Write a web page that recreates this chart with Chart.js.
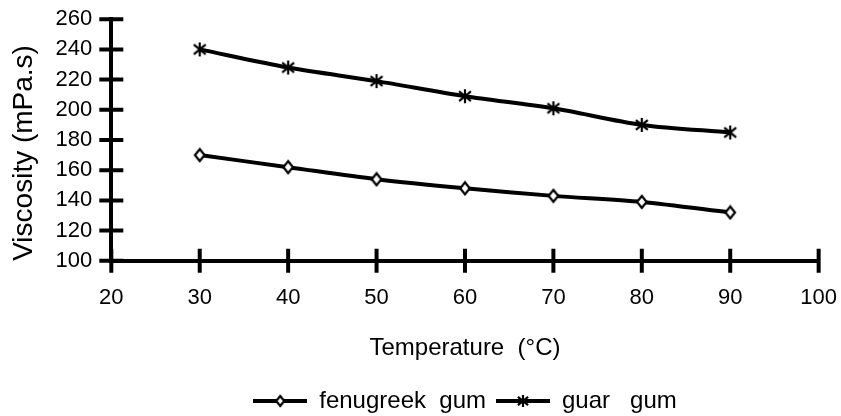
<!DOCTYPE html>
<html><head><meta charset="utf-8">
<script src="https://cdn.jsdelivr.net/npm/chart.js@4/dist/chart.umd.min.js"></script>
<style>html,body{margin:0;padding:0;background:#fff}#wrap{width:841px;height:416px}</style>
</head><body><div id="wrap"><canvas id="c" width="841" height="416"></canvas></div>
<script>
const temperatures = [30, 40, 50, 60, 70, 80, 90];
const fenugreekGum = [170, 162, 154, 148, 143, 139, 132];
const guarGum = [240, 228, 219, 209, 201, 190, 185];
const seriesNames = ['fenugreek  gum', 'guar   gum'];
const xTitle = 'Temperature  (\u00B0C)';
const yTitle = 'Viscosity (mPa.s)';

const FONT = 'Liberation Sans, Arial, sans-serif';

function starCanvas(size, withLine) {
  const w = withLine ? 54 : size*2+4, h = size*2+4;
  const c = document.createElement('canvas'); c.width = w; c.height = h;
  const g = c.getContext('2d'); g.strokeStyle = '#000'; g.lineCap='butt';
  const cx = w/2, cy = h/2;
  if (withLine) { g.lineWidth = 4; g.beginPath(); g.moveTo(0, cy); g.lineTo(w, cy); g.stroke(); }
  g.lineWidth = 2.2;
  g.beginPath();
  g.moveTo(cx, cy-size); g.lineTo(cx, cy+size);
  g.moveTo(cx-size*0.85, cy-size*0.7); g.lineTo(cx+size*0.85, cy+size*0.7);
  g.moveTo(cx-size*0.85, cy+size*0.7); g.lineTo(cx+size*0.85, cy-size*0.7);
  g.stroke();
  return c;
}
function diamondCanvas(size, withLine) {
  const w = withLine ? 54 : size*2+4, h = size*2+4;
  const c = document.createElement('canvas'); c.width = w; c.height = h;
  const g = c.getContext('2d'); g.strokeStyle = '#000';
  const cx = w/2, cy = h/2;
  if (withLine) { g.lineWidth = 4; g.beginPath(); g.moveTo(0, cy); g.lineTo(w, cy); g.stroke(); }
  g.lineWidth = 2.2; g.fillStyle = '#fff';
  g.beginPath(); g.moveTo(cx, cy-size); g.lineTo(cx+size*0.8, cy); g.lineTo(cx, cy+size); g.lineTo(cx-size*0.8, cy); g.closePath();
  g.fill(); g.stroke();
  return c;
}
const guarPt = starCanvas(7, false), fenPt = diamondCanvas(6, false);
const guarLeg = starCanvas(6, true), fenLeg = diamondCanvas(5, true);

const crossTicks = {
  id: 'crossTicks',
  afterDraw(chart) {
    const ctx = chart.ctx, xs = chart.scales.x, ys = chart.scales.y;
    const L = 12;
    ctx.save(); ctx.strokeStyle = '#000'; ctx.lineWidth = 4;
    ctx.beginPath();
    xs.ticks.forEach(t => { const p = xs.getPixelForValue(t.value); ctx.moveTo(p, ys.bottom - L); ctx.lineTo(p, ys.bottom + L); });
    ys.ticks.forEach(t => { const p = ys.getPixelForValue(t.value); ctx.moveTo(xs.left - L, p); ctx.lineTo(xs.left + L, p); });
    ctx.stroke(); ctx.restore();
  }
};

new Chart(document.getElementById('c'), {
  type: 'line',
  data: {
    datasets: [
      { label: seriesNames[0], data: temperatures.map((t,i)=>({x:t,y:fenugreekGum[i]})), borderColor:'#000', borderWidth:4, tension:0.3, pointStyle: fenPt, pointRadius:6, legendImg: fenLeg },
      { label: seriesNames[1], data: temperatures.map((t,i)=>({x:t,y:guarGum[i]})), borderColor:'#000', borderWidth:4, tension:0.3, pointStyle: guarPt, pointRadius:7, legendImg: guarLeg }
    ]
  },
  options: {
    responsive: false, animation: false,
    layout: { padding: { left: 7, right: 0, top: 1, bottom: -7 } },
    plugins: {
      tooltip: { enabled: false },
      legend: {
        position: 'bottom', fullSize: false,
        labels: {
          usePointStyle: true, pointStyleWidth: 54, color:'#000',
          font: { family: FONT, size: 24 },
          padding: 10,
          generateLabels(chart) {
            return chart.data.datasets.map((d, i) => ({ text: d.label, pointStyle: d.legendImg, fillStyle:'#000', strokeStyle:'#000', lineWidth:0, hidden:false, datasetIndex:i, fontColor:'#000' }));
          }
        }
      }
    },
    scales: {
      x: {
        type: 'linear', min: 20, max: 100,
        ticks: { stepSize: 10, color:'#000', padding: 4, font: { family: FONT, size: 22 } },
        grid: { drawOnChartArea: false, drawTicks: true, tickLength: 20, tickColor: 'rgba(0,0,0,0)' },
        border: { color:'#000', width: 4 },
        title: { display: true, text: xTitle, color:'#000', font: { family: FONT, size: 24 }, padding: { top: 19, bottom: 16 } }
      },
      y: {
        min: 100, max: 260,
        ticks: { stepSize: 20, autoSkip: false, color:'#000', padding: 6, font: { family: FONT, size: 22 } },
        grid: { drawOnChartArea: false, drawTicks: true, tickLength: 13, tickColor: 'rgba(0,0,0,0)' },
        border: { color:'#000', width: 4 },
        title: { display: true, align: 'start', text: yTitle, color:'#000', font: { family: FONT, size: 28 }, padding: { top: 0, bottom: 9 } }
      }
    }
  },
  plugins: [crossTicks]
});
</script></body></html>
